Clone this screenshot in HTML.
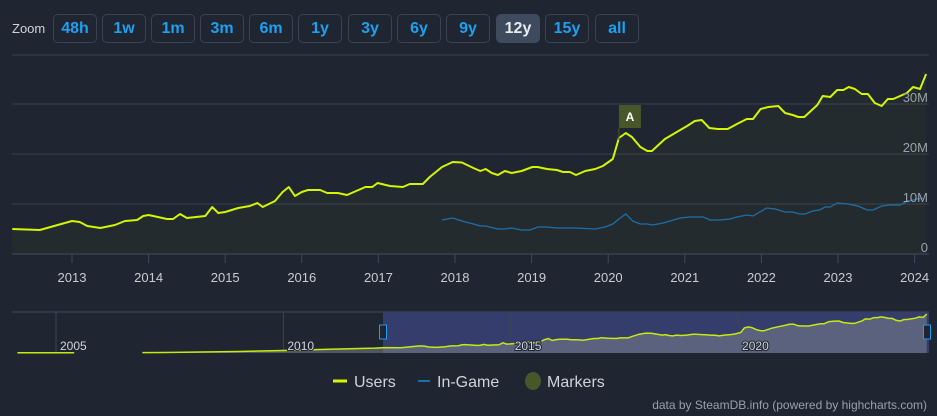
<!DOCTYPE html>
<html><head><meta charset="utf-8">
<style>
html,body{margin:0;padding:0;background:#1f2531;width:937px;height:416px;overflow:hidden;font-family:"Liberation Sans",sans-serif}
.zl{position:absolute;left:12px;top:21px;color:#d0d4da;font-size:13px}
.btn{position:absolute;top:14px;width:42px;height:27px;border:1px solid #3a4352;border-radius:5px;color:#1ea0f0;font-weight:bold;font-size:16px;text-align:center;line-height:27px;box-sizing:content-box}
.btn.on{background:#3e4a5e;color:#e8ecf0;border-color:#3e4a5e}
svg{position:absolute;left:0;top:0}
</style></head><body>
<div class="zl">Zoom</div>
<div class="btn" style="left:53px">48h</div>
<div class="btn" style="left:102px">1w</div>
<div class="btn" style="left:151px">1m</div>
<div class="btn" style="left:200px">3m</div>
<div class="btn" style="left:249px">6m</div>
<div class="btn" style="left:298px">1y</div>
<div class="btn" style="left:348px">3y</div>
<div class="btn" style="left:397px">6y</div>
<div class="btn" style="left:446px">9y</div>
<div class="btn on" style="left:496px">12y</div>
<div class="btn" style="left:545px">15y</div>
<div class="btn" style="left:595px">all</div>
<svg id="c" width="937" height="416"></svg>
<script>
const userYears=[2012.22,2012.58,2013.00,2013.10,2013.20,2013.37,2013.56,2013.69,2013.85,2013.93,2014.00,2014.24,2014.32,2014.41,2014.50,2014.74,2014.83,2014.91,2015.00,2015.17,2015.32,2015.42,2015.49,2015.65,2015.75,2015.83,2015.91,2016.00,2016.08,2016.24,2016.33,2016.47,2016.59,2016.83,2016.92,2016.99,2017.15,2017.32,2017.41,2017.58,2017.67,2017.83,2017.97,2018.09,2018.24,2018.33,2018.40,2018.48,2018.56,2018.65,2018.74,2018.87,2019.01,2019.08,2019.20,2019.33,2019.41,2019.50,2019.58,2019.70,2019.83,2019.93,2020.06,2020.14,2020.23,2020.31,2020.42,2020.51,2020.57,2020.74,2020.94,2021.03,2021.13,2021.22,2021.32,2021.43,2021.56,2021.68,2021.81,2021.89,2021.99,2022.09,2022.22,2022.31,2022.41,2022.48,2022.56,2022.73,2022.80,2022.90,2022.99,2023.07,2023.14,2023.22,2023.31,2023.39,2023.48,2023.57,2023.65,2023.72,2023.90,2023.98,2024.07,2024.15];
const userValues=[5.0,4.8,6.6,6.4,5.6,5.2,5.8,6.6,6.8,7.6,7.8,7.0,7.0,8.0,7.2,7.6,9.4,8.2,8.4,9.2,9.6,10.2,9.4,10.6,12.4,13.4,11.6,12.4,12.8,12.8,12.2,12.2,11.8,13.4,13.4,14.2,13.6,13.4,14.0,14.0,15.4,17.4,18.4,18.3,17.2,16.6,17.0,16.2,15.8,16.6,16.2,16.6,17.4,17.4,17.0,16.8,16.4,16.4,15.8,16.6,17.0,17.6,19.0,23.2,24.2,23.4,21.4,20.6,20.6,23.0,24.8,25.6,26.6,26.8,25.2,25.0,25.0,26.0,27.0,27.0,29.0,29.4,29.6,28.2,27.8,27.4,27.4,29.8,31.6,31.4,32.8,32.8,33.4,33.0,32.0,32.0,30.2,29.6,31.0,31.0,32.2,33.4,33.0,36.0];
const gameYears=[2017.83,2017.97,2018.09,2018.24,2018.33,2018.40,2018.56,2018.65,2018.74,2018.87,2018.98,2019.08,2019.20,2019.33,2019.57,2019.83,2019.96,2020.06,2020.14,2020.23,2020.32,2020.42,2020.51,2020.58,2020.72,2020.85,2020.94,2021.07,2021.24,2021.33,2021.46,2021.59,2021.68,2021.81,2021.89,2021.98,2022.07,2022.18,2022.31,2022.41,2022.50,2022.57,2022.67,2022.76,2022.83,2022.90,2022.99,2023.13,2023.26,2023.38,2023.46,2023.57,2023.68,2023.81,2023.91,2024.11];
const gameValues=[6.8,7.2,6.6,6.0,5.6,5.6,5.0,5.0,5.2,4.8,4.8,5.4,5.4,5.2,5.2,5.0,5.4,6.0,7.0,8.0,6.6,6.0,6.0,5.8,6.2,6.8,7.2,7.4,7.4,6.8,6.8,7.0,7.4,7.8,7.6,8.4,9.2,9.0,8.4,8.4,8.0,8.0,8.6,8.8,9.4,9.4,10.2,10.0,9.6,8.8,8.8,9.6,9.8,9.8,10.6,11.2];
const navEarlyYears=[2004.15,2004.25,2005.4,null,2006.9,2007.4,2008.0,2009.0,2010.0,2011.0,2012.0];
const navEarlyValues=[0.3,0.3,0.3,null,0.4,0.5,0.8,1.4,2.3,3.4,4.5];
const yTicks=[0,10,20,30];
const yTickLabels=["0","10M","20M","30M"];
const xTicks=[2013,2014,2015,2016,2017,2018,2019,2020,2021,2022,2023,2024];
const navTicks=[2005,2010,2015,2020];
const markerYear=2020.14, markerLabel="A";

const NS="http://www.w3.org/2000/svg",svg=document.getElementById('c');
function mk(t,a,p){const e=document.createElementNS(NS,t);for(const k in a)e.setAttribute(k,a[k]);(p||svg).appendChild(e);return e;}
const X=t=>72+(t-2013)*76.6, Y=v=>254-v*5;
const NX=t=>56+(t-2005)*45.47, NY=v=>353-v*1.08;
for(let i=0;i<yTicks.length;i++){
 const gr=mk('line',{x1:12,x2:929,y1:Y(yTicks[i]),y2:Y(yTicks[i]),stroke:i==0?'#3d4a5c':'#394150','stroke-width':1});
 
}
const topBorder=mk('line',{x1:12,x2:929,y1:55,y2:55,stroke:'#394150'});

let d='';userYears.forEach((t,i)=>{d+=(i?'L':'M')+X(t).toFixed(1)+','+Y(userValues[i]).toFixed(1);});
const area=mk('path',{d:d+'L'+X(userYears[userYears.length-1])+',254L'+X(userYears[0])+',254Z',fill:'rgba(200,255,0,0.03)'});

let gd='';gameYears.forEach((t,i)=>{gd+=(i?'L':'M')+X(t).toFixed(1)+','+Y(gameValues[i]).toFixed(1);});
const gl=mk('path',{d:gd,fill:'none',stroke:'#1d6fa8','stroke-width':1.3});

const ul=mk('path',{d:d,fill:'none',stroke:'#d4f600','stroke-width':2,'stroke-linejoin':'round'});

for(let i=0;i<yTicks.length;i++){
 const tx=mk('text',{x:928,y:Y(yTicks[i])-2,'text-anchor':'end',fill:'#9aa1ab','font-size':13});
 tx.textContent=yTickLabels[i];
}
xTicks.forEach(t=>{
 const l=mk('line',{x1:X(t),x2:X(t),y1:254,y2:263,stroke:'#3d4a5c'});
 
 const tx=mk('text',{x:X(t),y:282,'text-anchor':'middle',fill:'#c8ccd2','font-size':13});
 tx.textContent=t;
});
const mx=X(markerYear);
const ml=mk('line',{x1:mx,x2:mx,y1:128,y2:140,stroke:'#4a5a2c'});

const mr=mk('rect',{x:mx,y:105,width:22,height:23,fill:'#47572a'});

const mt=mk('text',{x:mx+11,y:121,'text-anchor':'middle',fill:'#fff','font-size':12,'font-weight':'bold'});
mt.textContent=markerLabel;
const nb=mk('line',{x1:12,x2:929,y1:312,y2:312,stroke:'#3d4a5c'});

const sel=mk('rect',{x:383,y:312,width:546,height:41,fill:'#353d6c'});

navTicks.forEach(t=>{
 const l=mk('line',{x1:NX(t),x2:NX(t),y1:312,y2:353,stroke:'#3a4558'});
 
});
const navY=navEarlyYears.concat(userYears), navV=navEarlyValues.concat(userValues);
let nd='',segs=[],cur=[];
navY.forEach((t,i)=>{if(t===null){if(cur.length)segs.push(cur);cur=[];return;}cur.push([NX(t),NY(navV[i])]);});
if(cur.length)segs.push(cur);
segs.forEach(s=>{nd+=s.map((p,i)=>(i?'L':'M')+p[0].toFixed(1)+','+p[1].toFixed(1)).join('');});
const last=segs[segs.length-1];
const na=mk('path',{d:last.map((p,i)=>(i?'L':'M')+p[0].toFixed(1)+','+p[1].toFixed(1)).join('')+'L'+last[last.length-1][0]+',353L'+last[0][0]+',353Z',fill:'rgba(120,130,140,0.55)'});

const nl=mk('path',{d:nd,fill:'none',stroke:'#c6ea10','stroke-width':1.5});

navTicks.forEach(t=>{
 const tx=mk('text',{x:NX(t)+4,y:350,fill:'#d0d4da','font-size':12,stroke:'#1f2531','stroke-width':2,'paint-order':'stroke'});
 tx.textContent=t;
});
[[383,'navigator-handle-left'],[927,'navigator-handle-right']].forEach(h=>{
 const r=mk('rect',{x:h[0]-3.5,y:325,width:7,height:14,fill:'#1f2531',stroke:'#19a0f0','stroke-width':1});
 
});
const l1=mk('line',{x1:333,x2:347,y1:381,y2:381,stroke:'#d4f600','stroke-width':3});

const t1=mk('text',{x:354,y:387,fill:'#d0d4da','font-size':16});t1.textContent='Users';

const l2=mk('line',{x1:418,x2:430,y1:381,y2:381,stroke:'#1d6fa8','stroke-width':2});

const t2=mk('text',{x:437,y:387,fill:'#d0d4da','font-size':16});t2.textContent='In-Game';

const c3=mk('ellipse',{cx:533,cy:381,rx:8,ry:9,fill:'#47572a'});

const t3=mk('text',{x:547,y:387,fill:'#d0d4da','font-size':16});t3.textContent='Markers';

const cr=mk('text',{x:927,y:409,'text-anchor':'end',fill:'#9aa1ab','font-size':12});
cr.textContent='data by SteamDB.info (powered by highcharts.com)';

</script>
</body></html>
